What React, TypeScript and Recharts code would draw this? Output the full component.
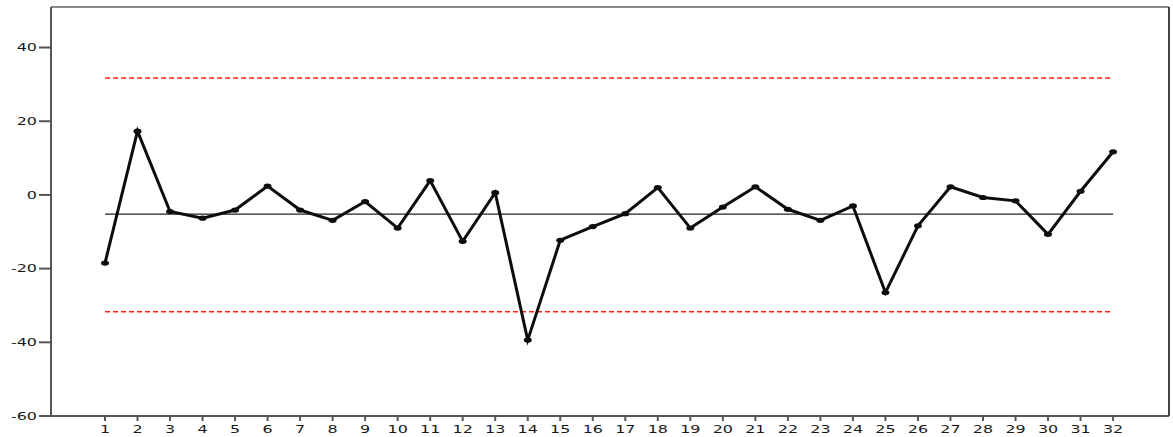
import React from 'react';
import { Line, LineChart, ReferenceLine, XAxis, YAxis } from 'recharts';

// Individuals control chart: 32 samples, centre line and upper/lower limits.

const samples = [
  1, 2, 3, 4, 5, 6, 7, 8, 9, 10, 11, 12, 13, 14, 15, 16,
  17, 18, 19, 20, 21, 22, 23, 24, 25, 26, 27, 28, 29, 30, 31, 32,
];
const values = [
  -18.5, 17.3, -4.5, -6.3, -4.1, 2.4, -4.1, -6.9, -1.8, -9.0, 3.9, -12.6, 0.6, -39.4, -12.3, -8.6,
  -5.1, 2.0, -9.0, -3.3, 2.2, -3.9, -6.9, -3.0, -26.5, -8.4, 2.2, -0.7, -1.6, -10.7, 1.0, 11.7,
];
const yTicks = [-60, -40, -20, 0, 20, 40];

const centreLine = -5.2;
const upperLimit = 31.7;
const lowerLimit = -31.7;

const xDomain = [-0.66, 33.72];
const yDomain = [-60, 51];

const data = samples.map((s, i) => ({ sample: s, value: values[i] }));

const INK = '#0d0d0d';
const AXIS = '#555';
const LIMIT = '#ff2020';

// The tick labels are drawn wide and short.
const StretchedTick = ({ x, y, payload, anchor, dy }: any) => (
  <text
    transform={`translate(${x},${y}) scale(1.45,1)`}
    textAnchor={anchor}
    dy={dy}
    fontSize={11}
    fontFamily="DejaVu Sans, sans-serif"
    fill="#1a1a1a"
  >
    {payload.value}
  </text>
);

const PointDot = ({ cx, cy }: any) =>
  cx == null || cy == null ? null : <ellipse cx={cx} cy={cy} rx={4} ry={2.6} fill={INK} />;

export default function App() {
  return (
    <div style={{ position: 'absolute', left: 0, top: 0, background: '#fff' }}>
      <LineChart
        width={1173}
        height={437}
        data={data}
        margin={{ top: 7, right: 4, left: 0, bottom: 0 }}
      >
        <XAxis
          dataKey="sample"
          type="number"
          domain={xDomain}
          ticks={samples}
          interval={0}
          height={21}
          tickSize={5}
          tickMargin={4}
          stroke={AXIS}
          strokeWidth={2}
          tick={<StretchedTick anchor="middle" dy="0.71em" />}
        />
        <YAxis
          type="number"
          domain={yDomain}
          ticks={yTicks}
          width={51}
          tickSize={12}
          tickMargin={2}
          stroke={AXIS}
          strokeWidth={2}
          tick={<StretchedTick anchor="end" dy="0.35em" />}
        />
        {/* frame: top and right edges of the plot */}
        <ReferenceLine y={yDomain[1]} stroke="#8a8a8a" strokeWidth={2} />
        <ReferenceLine x={xDomain[1]} stroke="#444" strokeWidth={2} />
        <ReferenceLine
          segment={[{ x: 1, y: upperLimit }, { x: 32, y: upperLimit }]}
          stroke={LIMIT}
          strokeWidth={1.5}
          strokeDasharray="5 3"
        />
        <ReferenceLine
          segment={[{ x: 1, y: lowerLimit }, { x: 32, y: lowerLimit }]}
          stroke={LIMIT}
          strokeWidth={1.5}
          strokeDasharray="5 3"
        />
        <ReferenceLine
          segment={[{ x: 1, y: centreLine }, { x: 32, y: centreLine }]}
          stroke="#222"
          strokeWidth={1.2}
        />
        <Line
          dataKey="value"
          stroke={INK}
          strokeWidth={3}
          dot={<PointDot />}
          activeDot={false}
          isAnimationActive={false}
        />
      </LineChart>
    </div>
  );
}
